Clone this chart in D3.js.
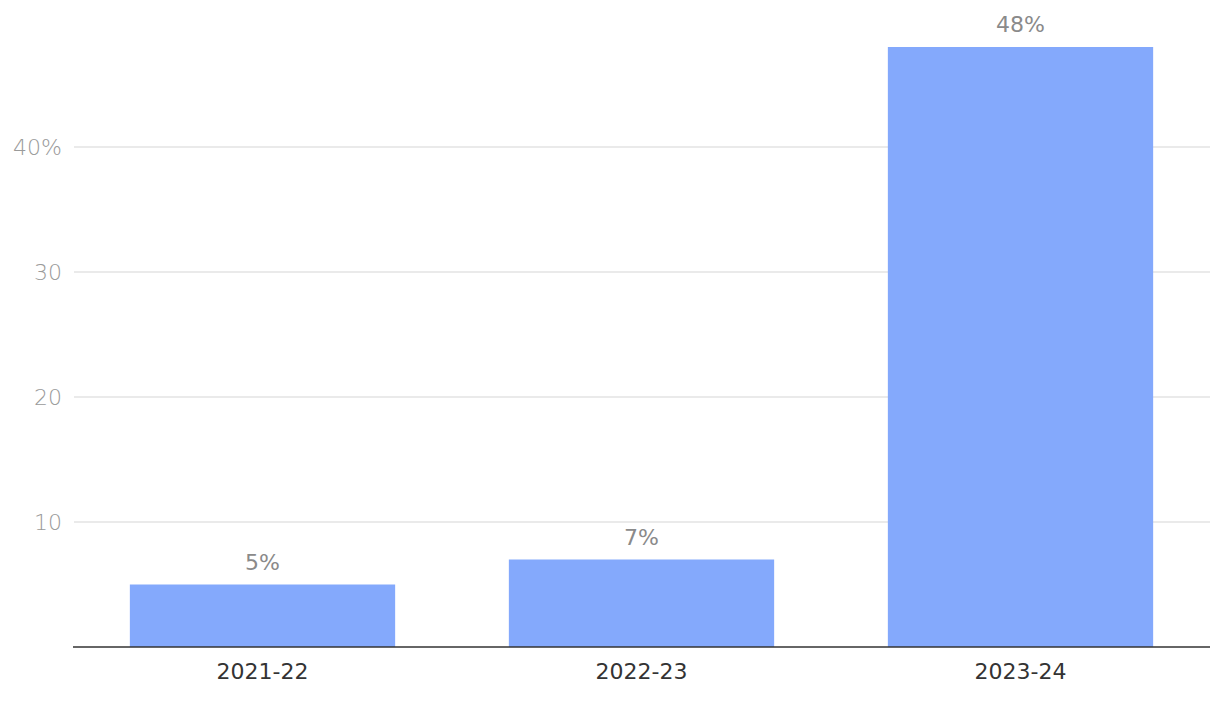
<!DOCTYPE html>
<html><head><meta charset="utf-8">
<script src="https://cdn.jsdelivr.net/npm/d3@7"></script>
<style>body{margin:0;background:#fff;}svg{display:block;font-family:"DejaVu Sans","Liberation Sans",sans-serif;}</style>
</head><body><svg id="c" width="1220" height="702"></svg>
<script>
const categories = ["2021-22", "2022-23", "2023-24"];
const values = [5, 7, 48];
const yTicks = [10, 20, 30, 40];
const yTickLabels = ["10", "20", "30", "40%"];

const svg = d3.select("#c");
const m = {l: 73, r: 1210, t: 47, b: 647};
const x = d3.scaleBand().domain(categories).range([m.l, m.r]).paddingInner(0.3).paddingOuter(0.15);
const y = d3.scaleLinear().domain([0, 48]).range([m.b, m.t]);

svg.append("g").selectAll("line").data(yTicks).join("line")
  .attr("x1", m.l + 1).attr("x2", m.r).attr("y1", d => y(d)).attr("y2", d => y(d))
  .attr("stroke", "#e3e3e3").attr("stroke-width", 1.3);
svg.append("g").selectAll("text").data(yTicks).join("text")
  .attr("x", 62).attr("y", d => y(d)).attr("dy", "0.36em").attr("text-anchor", "end")
  .attr("fill", "#9a9a9a").attr("font-size", 22).attr("font-weight", 300).text((d, i) => yTickLabels[i]);

svg.append("g").selectAll("rect").data(values).join("rect")
  .attr("x", (d, i) => x(categories[i])).attr("width", x.bandwidth())
  .attr("y", d => y(d)).attr("height", d => y(0) - y(d)).attr("fill", "#84a9fc");

svg.append("g").selectAll("text").data(values).join("text")
  .attr("x", (d, i) => x(categories[i]) + x.bandwidth() / 2).attr("y", d => y(d) - 15)
  .attr("text-anchor", "middle").attr("fill", "#8a8a8a").attr("font-size", 22).text(d => d + "%");

svg.append("line").attr("x1", m.l).attr("x2", m.r).attr("y1", y(0)).attr("y2", y(0))
  .attr("stroke", "#333").attr("stroke-width", 1.5);

svg.append("g").selectAll("text").data(categories).join("text")
  .attr("x", d => x(d) + x.bandwidth() / 2).attr("y", 679)
  .attr("text-anchor", "middle").attr("fill", "#333").attr("font-size", 22).text(d => d);
</script></body></html>
